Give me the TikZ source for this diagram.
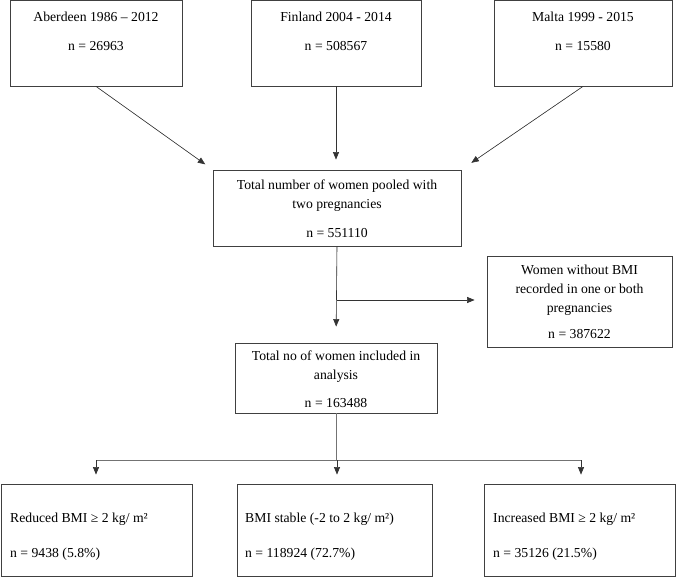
\documentclass[tikz,border=0pt]{standalone}
\usepackage{fontspec}
\setmainfont{Liberation Serif}
\usetikzlibrary{arrows.meta}
\begin{document}
\begin{tikzpicture}[x=1pt,y=-1pt,
 box/.style={draw=black!75, line width=0.8pt, inner sep=0},
 txt/.style={font=\fontsize{13.7}{19}\selectfont, inner sep=0, align=center},
 ltxt/.style={font=\fontsize{13.7}{19}\selectfont, inner sep=0, anchor=west},
 arr/.style={-{Triangle[length=7.5pt,width=6pt]}, line width=0.6pt, draw=black!80, fill=black!80},
 ln/.style={line width=0.6pt, draw=black!80}]
\useasboundingbox (0,0) rectangle (676,577);
% top boxes
\node[box, minimum width=172pt, minimum height=86pt] (ab) at (96,43) {};
\node[box, minimum width=170pt, minimum height=86pt] (fi) at (336,43) {};
\node[box, minimum width=178pt, minimum height=86pt] (ma) at (583,43) {};
\node[txt] (abt) at (96,17) {Aberdeen 1986 – 2012};
\node[txt] (abn) at (96,46) {n = 26963};
\node[txt] (fit) at (336,17) {Finland 2004 - 2014};
\node[txt] (fin) at (336,46) {n = 508567};
\node[txt] (mat) at (583,17) {Malta 1999 - 2015};
\node[txt] (man) at (583,46) {n = 15580};
% total pooled
\node[box, minimum width=248pt, minimum height=76pt] (tot) at (337,208) {};
\node[txt] (tott) at (337,195.5) {Total number of women pooled with\\two pregnancies};
\node[txt] (totn) at (337,233.5) {n = 551110};
% women without
\node[box, minimum width=185pt, minimum height=91pt] (wo) at (579.5,301.5) {};
\node[txt] (wot) at (579.5,290.5) {Women without BMI\\recorded in one or both\\pregnancies};
\node[txt] (won) at (579.5,334.5) {n = 387622};
% included
\node[box, minimum width=202pt, minimum height=70pt] (inc) at (336,378) {};
\node[txt] (inct) at (336,367) {Total no of women included in\\analysis};
\node[txt] (incn) at (336,403.5) {n = 163488};
% bottom boxes
\node[box, minimum width=191pt, minimum height=92pt] (lo) at (96.5,530) {};
\node[box, minimum width=195pt, minimum height=92pt] (mid) at (334.5,530) {};
\node[box, minimum width=191pt, minimum height=92pt] (hi) at (579.5,530) {};
\node[ltxt] (lot) at (10,519) {Reduced BMI ≥ 2 kg/ m²};
\node[ltxt] (lon) at (10,554) {n = 9438 (5.8\%)};
\node[ltxt] (midt) at (245,519) {BMI stable (-2 to 2 kg/ m²)};
\node[ltxt] (midn) at (245,554) {n = 118924 (72.7\%)};
\node[ltxt] (hit) at (493,519) {Increased BMI ≥ 2 kg/ m²};
\node[ltxt] (hin) at (493,554) {n = 35126 (21.5\%)};
% connectors
\draw[arr, shorten >=9pt] (ab.south) -- (tot.north west);
\draw[arr, shorten >=10pt] (fi.south) -- (fi.south |- tot.north);
\draw[arr, shorten >=12pt] (ma.south) -- (tot.north east);
\draw[arr, shorten >=16pt] (tot.south) -- (inc.north);
\coordinate (br) at (337,300);
\draw[arr, shorten >=12pt] (br) -- (br -| wo.west);
\coordinate (hy) at (0,460);
\draw[ln, draw=black!55] (inc.south) -- (inc.south |- hy);
\draw[ln, draw=black!55] (96,460) -- (581,460);
\coordinate (l1) at (96,460);
\coordinate (l2) at (337,460);
\coordinate (l3) at (581,460);
\draw[arr, shorten >=9pt] (l1) -- (l1 |- lo.north);
\draw[arr, shorten >=9pt] (l2) -- (l2 |- mid.north);
\draw[arr, shorten >=9pt] (l3) -- (l3 |- hi.north);
\end{tikzpicture}
\end{document}
